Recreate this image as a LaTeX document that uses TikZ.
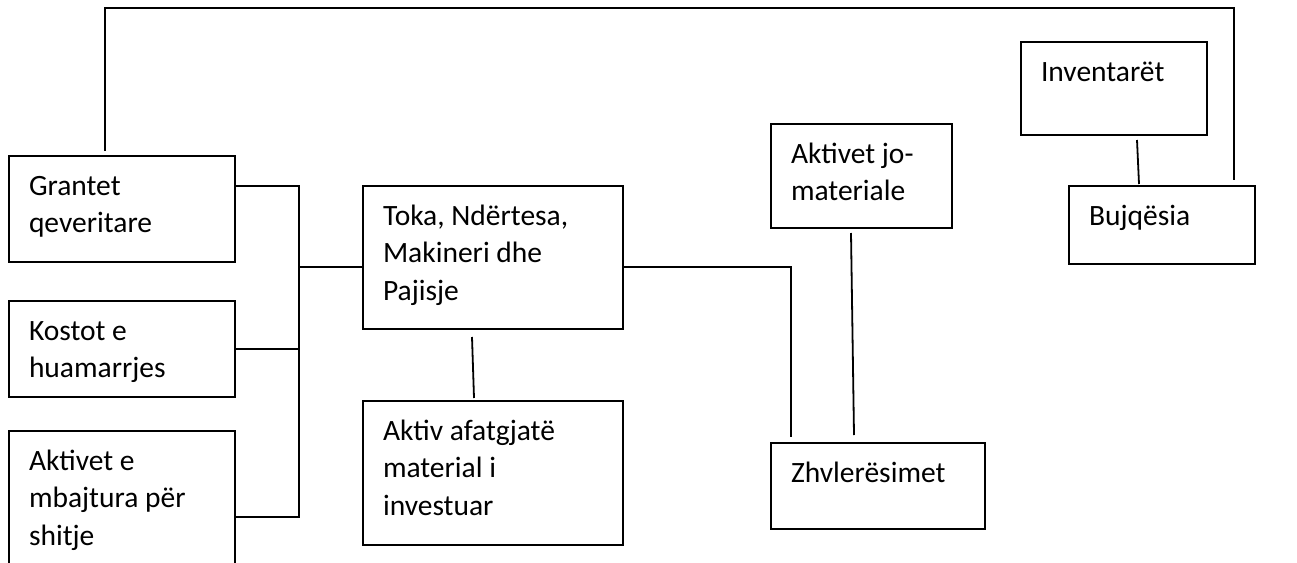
\documentclass[tikz,border=0pt]{standalone}
\usepackage{fontspec}
\setmainfont{Carlito}
\usetikzlibrary{positioning}

\begin{document}
\begin{tikzpicture}[x=1pt, y=-1pt,
  box/.style={draw, line width=1.8pt, align=flush left, anchor=north west, inner xsep=20pt, inner ysep=0pt, outer sep=0pt, text height=39pt, font=\fontsize{29.5}{37.5}\selectfont},
  link/.style={line width=1.8pt}]
\useasboundingbox (0,0) rectangle (1297,562);
\clip (0,0) rectangle (1297,562);
\node[box, text width=186pt, text depth=67pt] (grant) at (9,156) {Grantet\\qeveritare};
\node[box, text width=186pt, text depth=57pt, below=39pt of grant] (kost) {Kostot e\\huamarrjes};
\node[box, text width=186pt, text depth=103pt, below=34pt of kost] (held) {Aktivet e\\mbajtura për\\shitje};
\node[box, text width=220pt, text depth=104pt] (toka) at (363,186) {Toka, Ndërtesa,\\Makineri dhe\\Pajisje};
\node[box, text width=220pt, text depth=105pt, below=72pt of toka] (afat) {Aktiv afatgjatë\\material i\\investuar};
\node[box, text width=141pt, text depth=65pt] (jomat) at (771,124) {Aktivet jo-\\materiale};
\node[box, text width=174pt, text depth=47pt] (zhvl) at (771,443) {Zhvlerësimet};
\node[box, text width=146pt, text depth=54pt] (inv) at (1021,42) {Inventarët};
\node[box, text width=146pt, text depth=39pt] (bujq) at (1069,186) {Bujqësia};
\coordinate (bus) at (299,186);
\draw[link] ([yshift=-30pt]grant.north east) -- (bus) |- ([yshift=-86pt]held.north east);
\draw[link] (kost.east) -- (kost.east -| bus);
\draw[link] ([yshift=-81pt]toka.north west) -- ++(-64,0);
\draw[link] ([yshift=-81pt]toka.north east) -| ([xshift=20pt,yshift=6pt]zhvl.north west);
\draw[link] ([xshift=109pt,yshift=-8pt]toka.south west) -- ([xshift=111pt,yshift=3pt]afat.north west);
\draw[link] ([xshift=80pt,yshift=-5pt]jomat.south west) -- ([xshift=83pt,yshift=8pt]zhvl.north west);
\draw[link] ([xshift=116pt,yshift=-5pt]inv.south west) -- ([xshift=70pt,yshift=2pt]bujq.north west);
\draw[link] ([xshift=96pt,yshift=5pt]grant.north west) -- ++(0,-143) -| ([xshift=-21pt,yshift=6pt]bujq.north east);
\end{tikzpicture}
\end{document}
